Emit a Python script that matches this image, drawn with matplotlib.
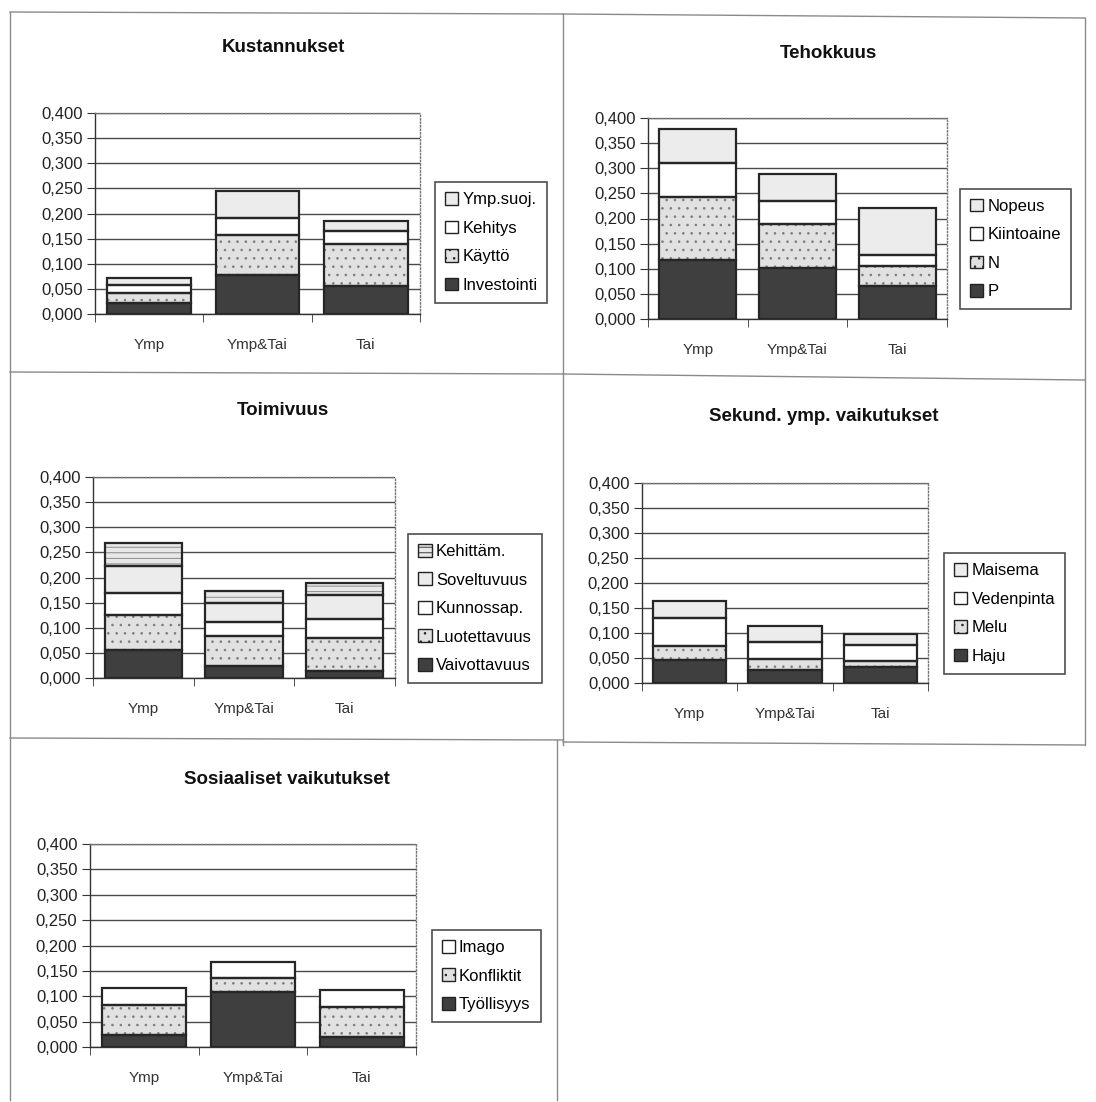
import matplotlib
matplotlib.use("Agg")
import matplotlib.pyplot as plt
from matplotlib.patches import Patch
from matplotlib.lines import Line2D
from matplotlib.ticker import FuncFormatter, FixedLocator

plt.rcParams['font.family'] = ['Liberation Sans', 'DejaVu Sans']
plt.rcParams['hatch.linewidth'] = 0.6

W, H = 1096, 1102

categories = ["Ymp", "Ymp&Tai", "Tai"]

# Kustannukset
kust_labels = ["Investointi", "Käyttö", "Kehitys", "Ymp.suoj."]
kust_investointi = [0.021, 0.078, 0.056]
kust_kaytto = [0.020, 0.079, 0.084]
kust_kehitys = [0.017, 0.035, 0.025]
kust_ympsuoj = [0.013, 0.052, 0.021]

# Tehokkuus
teho_labels = ["P", "N", "Kiintoaine", "Nopeus"]
teho_p = [0.118, 0.101, 0.065]
teho_n = [0.125, 0.088, 0.040]
teho_kiintoaine = [0.067, 0.045, 0.023]
teho_nopeus = [0.068, 0.055, 0.093]

# Toimivuus
toim_labels = ["Vaivottavuus", "Luotettavuus", "Kunnossap.", "Soveltuvuus", "Kehittäm."]
toim_vaivottavuus = [0.055, 0.023, 0.013]
toim_luotettavuus = [0.071, 0.060, 0.066]
toim_kunnossap = [0.043, 0.028, 0.038]
toim_soveltuvuus = [0.054, 0.039, 0.048]
toim_kehittam = [0.046, 0.023, 0.025]

# Sekundääriset ympäristövaikutukset
sek_labels = ["Haju", "Melu", "Vedenpinta", "Maisema"]
sek_haju = [0.047, 0.027, 0.032]
sek_melu = [0.028, 0.021, 0.013]
sek_vedenpinta = [0.056, 0.035, 0.032]
sek_maisema = [0.034, 0.032, 0.022]

# Sosiaaliset vaikutukset
sos_labels = ["Työllisyys", "Konfliktit", "Imago"]
sos_tyollisyys = [0.023, 0.109, 0.020]
sos_konfliktit = [0.059, 0.026, 0.059]
sos_imago = [0.034, 0.033, 0.033]

yticks = [0.0, 0.05, 0.10, 0.15, 0.20, 0.25, 0.30, 0.35, 0.40]

# segment styles: (facecolor, hatch)
DARK = ("#3f3f3f", None)
STIP = ("#e1e1e1", "..")
WHITE = ("#ffffff", None)
LGRAY = ("#ececec", None)
LINED = ("#e8e8e8", "---")

fig = plt.figure(figsize=(W / 100, H / 100), dpi=100)


def frac_rect(x0, y0, x1, y1):
    return [x0 / W, 1 - y1 / H, (x1 - x0) / W, (y1 - y0) / H]


def fig_line(x0, y0, x1, y1, color="#8a8a8a", lw=1.0):
    fig.add_artist(Line2D([x0 / W, x1 / W], [1 - y0 / H, 1 - y1 / H],
                          transform=fig.transFigure, color=color, lw=lw))


def panel(rect, title, title_xy, series, labels, styles, legend_box):
    ax = fig.add_axes(frac_rect(*rect))
    x = list(range(len(categories)))
    bottoms = [0.0] * len(categories)
    handles = []
    for vals, lab, (fc, hatch) in zip(series, labels, styles):
        ax.bar(x, vals, width=0.77, bottom=bottoms, color=fc,
               hatch=hatch, edgecolor="#7a7a7a" if hatch else fc,
               linewidth=0, zorder=3)
        ax.bar(x, vals, width=0.77, bottom=bottoms, fill=False,
               edgecolor="#262626", linewidth=1.6, zorder=4)
        handles.append(Patch(facecolor=fc, hatch=hatch, edgecolor="#222222",
                             linewidth=1.0, label=lab))
        bottoms = [b + v for b, v in zip(bottoms, vals)]
    ax.set_xlim(-0.5, 2.5)
    ax.set_ylim(0, 0.4)
    ax.set_yticks(yticks)
    ax.yaxis.set_major_formatter(FuncFormatter(lambda v, p: f"{v:.3f}".replace(".", ",")))
    ax.set_xticks(x)
    ax.set_xticklabels(categories, fontsize=11, color="#333333")
    ax.xaxis.set_minor_locator(FixedLocator([-0.5, 0.5, 1.5, 2.5]))
    ax.tick_params(axis="x", which="major", length=0, pad=17)
    ax.tick_params(axis="x", which="minor", length=6, direction="out", color="#333333")
    ax.tick_params(axis="y", length=6, direction="out", color="#333333",
                   labelsize=12, labelcolor="#222222", pad=3)
    ax.grid(axis="y", color="#4a4a4a", linewidth=1.0, zorder=1)
    ax.set_axisbelow(True)
    for s in ("top", "right"):
        ax.spines[s].set_linestyle((0, (1, 1.5)))
        ax.spines[s].set_color("#777777")
        ax.spines[s].set_linewidth(1.0)
    for s in ("left", "bottom"):
        ax.spines[s].set_color("#333333")
        ax.spines[s].set_linewidth(1.0)
    fig.text(title_xy[0] / W, 1 - title_xy[1] / H, title, ha="center", va="center",
             fontsize=13.5, fontweight="bold", color="#111111")
    lx0, ly0, lx1, ly1 = legend_box
    leg = fig.legend(handles=handles[::-1], loc="center",
                     bbox_to_anchor=((lx0 + lx1) / 2 / W, 1 - (ly0 + ly1) / 2 / H),
                     bbox_transform=fig.transFigure, fontsize=12, frameon=True,
                     fancybox=False, handlelength=0.8, handleheight=0.8,
                     handletextpad=0.25, labelspacing=0.8, borderpad=0.6,
                     borderaxespad=0)
    leg.get_frame().set_edgecolor("#222222")
    leg.get_frame().set_linewidth(1.2)
    return ax


panel((95, 113, 420, 314), "Kustannukset", (283, 48),
      [kust_investointi, kust_kaytto, kust_kehitys, kust_ympsuoj], kust_labels,
      [DARK, STIP, WHITE, LGRAY], (440, 180, 542, 305))

panel((648, 118, 947, 319), "Tehokkuus", (828, 53),
      [teho_p, teho_n, teho_kiintoaine, teho_nopeus], teho_labels,
      [DARK, STIP, WHITE, LGRAY], (964, 188, 1067, 310))

panel((93, 477, 395, 678), "Toimivuus", (283, 410),
      [toim_vaivottavuus, toim_luotettavuus, toim_kunnossap, toim_soveltuvuus, toim_kehittam],
      toim_labels, [DARK, STIP, WHITE, LGRAY, LINED], (410, 530, 540, 687))

panel((642, 483, 928, 683), "Sekund. ymp. vaikutukset", (824, 417),
      [sek_haju, sek_melu, sek_vedenpinta, sek_maisema], sek_labels,
      [DARK, STIP, WHITE, LGRAY], (947, 551, 1062, 676))

panel((90, 844, 416, 1047), "Sosiaaliset vaikutukset", (287, 779),
      [sos_tyollisyys, sos_konfliktit, sos_imago], sos_labels,
      [DARK, STIP, WHITE], (434, 929, 538, 1023))

# page frames around the chart blocks
fig_line(10, 12, 563, 14)
fig_line(563, 14, 1085, 18)
fig_line(10, 12, 10, 1100)
fig_line(563, 14, 563, 745)
fig_line(1085, 18, 1085, 745)
fig_line(10, 372, 563, 374)
fig_line(563, 374, 1085, 380)
fig_line(10, 738, 563, 740)
fig_line(563, 742, 1085, 745)
fig_line(557, 740, 557, 1100)

fig.savefig("out.png", dpi=100, facecolor="white")
